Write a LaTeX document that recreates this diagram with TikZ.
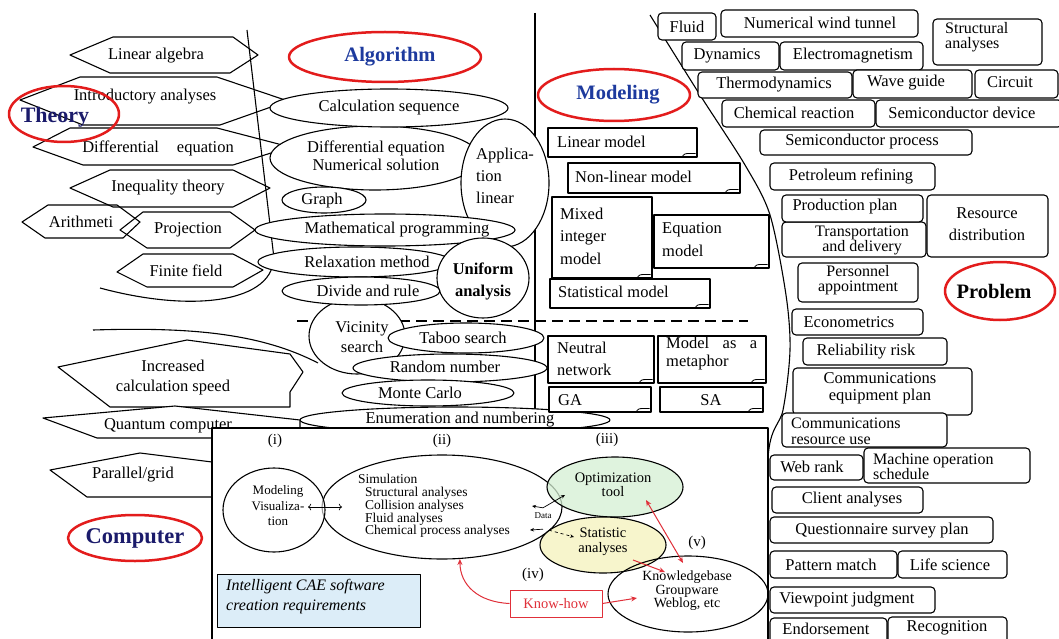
\documentclass[tikz,border=0pt]{standalone}
\usepackage{fontspec}
\setmainfont{Liberation Serif}
\usetikzlibrary{shapes.geometric,arrows.meta}
\definecolor{ovalred}{HTML}{E31C1C}
\definecolor{headblue}{HTML}{1D3A9E}
\definecolor{navy}{HTML}{1B1B6B}
\definecolor{arrowred}{HTML}{E0303A}
\definecolor{optgreen}{HTML}{D5EFD3}
\definecolor{statyellow}{HTML}{F6F4C4}
\definecolor{caeblue}{HTML}{DCEDF8}
% box from corner (x1,y1) to (x2,y2): style, name, x1, y1, x2, y2
\newcommand\bxx[6]{\node[#1, minimum width={#5-#3}, minimum height={#6-#4}] (#2) at ({(#3+#5)/2},{(#4+#6)/2}) {};}
% ellipse node: style, name, cx, cy, rx, ry
\newcommand\elx[6]{\node[#1, minimum width={2*#5}, minimum height={2*#6}] (#2) at (#3,#4) {};}
% text node: options, name, position, text
\newcommand\tlab[4][]{\node[txt,#1] (#2) at (#3) {#4};}
\begin{document}
\begin{tikzpicture}[x=1pt,y=-1pt,line join=round,
  every node/.style={font=\fontsize{16.5}{18}\selectfont},
  txt/.style={inner sep=0pt, align=center},
  bord/.style={line width=1.1pt},
  ell/.style={ellipse, draw, fill=white, bord, inner sep=0pt},
  oval/.style={ellipse, draw=ovalred, line width=2.5pt, inner sep=0pt},
  mbox/.style={rectangle, draw, fill=white, bord, inner sep=0pt},
  pbox/.style={mbox, rounded corners=4pt},
  hexa/.style={draw, bord},
  head/.style={txt, font=\fontsize{20.5}{22}\selectfont\bfseries, text=headblue},
  redarr/.style={draw=arrowred, line width=1pt, -{Stealth[length=6pt,width=5pt]}},
  darr/.style={line width=0.7pt, -{Stealth[length=4pt,width=3.5pt]}},
]
\useasboundingbox (0,0) rectangle (1059,639);
\clip (0,0) rectangle (1059,639);
\fill[white] (0,0) rectangle (1059,639);

% ---------- region boundaries ----------
\draw[bord] (247,30) -- (273,250) .. controls (282,300) and (200,315) .. (100,288);
\draw[bord] (93,330) .. controls (190,327) and (260,333) .. (318,363);
\draw[bord] (535,13) -- (535,430);
\draw[bord] plot[smooth] coordinates {(650,15) (700,95) (745,165) (770,215) (786,295) (790,350) (783,410) (768,458) (768,639)};
\draw[line width=2.2pt, dash pattern=on 11pt off 6pt] (297,321) -- (748,321);

% ---------- Theory ----------
\draw[hexa] (70,55) -- (113,37) -- (233,37) -- (258,55) -- (230,73) -- (110,73) -- cycle;
\tlab{t-lin}{156,56}{Linear algebra}
\draw[hexa] (20,100) -- (80,77) -- (217,77) -- (288,101) -- (220,125) -- (83,125) -- cycle;
\tlab{t-intro}{145,97}{Introductory analyses}
\draw[hexa] (33,147) -- (70,128) -- (217,128) -- (290,147) -- (233,165) -- (83,165) -- cycle;
\tlab{t-diff}{158,148}{Differential\hspace{18pt}equation}
\draw[hexa] (70,188) -- (110,170) -- (233,170) -- (270,188) -- (233,207) -- (113,207) -- cycle;
\tlab{t-ineq}{168,188}{Inequality theory}
\draw[hexa] (22,222) -- (48,205) -- (117,205) -- (140,222) -- (123,238) -- (45,238) -- cycle;
\tlab{t-arith}{81,222}{Arithmeti}
\draw[hexa] (120,230) -- (143,212) -- (230,212) -- (255,230) -- (230,248) -- (147,248) -- cycle;
\tlab{t-proj}{188,230}{Projection}
\draw[hexa] (117,272) -- (143,254) -- (233,254) -- (263,270) -- (233,287) -- (147,287) -- cycle;
\tlab{t-fin}{186,271}{Finite field}

% ---------- Algorithm ----------
\elx{ell}{diff}{375}{158}{105}{32}
\tlab{diff-t}{376,156}{Differential equation\\Numerical solution}
\elx{ell}{calc}{389}{108}{119}{19}
\tlab{calc-t}{389,108}{Calculation sequence}
\elx{ell}{app}{505}{183}{44}{64}
\tlab[anchor=west,align=left,font=\fontsize{16.5}{22}\selectfont]{app-t}{476,176}{Applica-\\tion\\linear}
\elx{ell}{graph}{324}{200}{42}{13}
\tlab{graph-t}{322,201}{Graph}
\elx{ell}{mathp}{385}{230}{130}{16}
\tlab{mathp-t}{397,230}{Mathematical programming}
\elx{ell}{relax}{355}{262}{97}{15}
\tlab{relax-t}{367,262}{Relaxation method}
\elx{ell}{unif}{483}{278}{46}{40}
\tlab[font=\fontsize{16.5}{22}\selectfont\bfseries]{unif-t}{483,281}{Uniform\\analysis}
\elx{ell}{vic}{357}{336}{48}{38}
\elx{ell}{divide}{361}{291}{79}{14}
\tlab{divide-t}{368,291}{Divide and rule}
\tlab[font=\fontsize{16.5}{20}\selectfont]{vic-t}{362,337}{Vicinity\\search}
\elx{ell}{taboo}{466}{338}{78}{15}
\tlab{taboo-t}{463,338}{Taboo search}
\elx{ell}{random}{450}{368}{97}{14}
\tlab{random-t}{445,367}{Random number}
\elx{ell}{monte}{428}{393}{86}{13}
\tlab{monte-t}{420,393}{Monte Carlo}
\elx{ell}{enum}{455}{420}{155}{13}
\tlab{enum-t}{460,420}{Enumeration and numbering}

% ---------- Modeling ----------
\bxx{mbox}{linm}{548}{128}{697}{157}
\tlab[anchor=west]{linm-t}{557,142}{Linear model}
\bxx{mbox}{nlm}{568}{163}{740}{193}
\tlab[anchor=west]{nlm-t}{575,177}{Non-linear model}
\bxx{mbox}{mixed}{552}{197}{652}{278}
\tlab[anchor=west,align=left,font=\fontsize{16.5}{22.5}\selectfont]{mixed-t}{560,236}{Mixed\\integer\\model}
\bxx{mbox}{eqm}{654}{215}{769}{268}
\tlab[anchor=west,align=left,font=\fontsize{16.5}{23}\selectfont]{eqm-t}{662,240}{Equation\\model}
\bxx{mbox}{statm}{550}{279}{710}{308}
\tlab[anchor=west]{statm-t}{558,292}{Statistical model}
\bxx{mbox}{nn}{548}{336}{654}{383}
\tlab[anchor=west,align=left,font=\fontsize{16.5}{22}\selectfont]{nn-t}{557,359}{Neutral\\network}
\bxx{mbox}{meta}{658}{336}{766}{383}
\tlab[anchor=west,align=left,font=\fontsize{16.5}{18}\selectfont]{meta-t}{666,354}{\makebox[91pt][s]{Model as a}\\metaphor}
\bxx{mbox}{ga}{549}{387}{651}{412}
\tlab[anchor=west]{ga-t}{558,400}{GA}
\bxx{mbox}{sa}{660}{387}{763}{412}
\tlab{sa-t}{711,400}{SA}
\foreach \n in {linm,nlm,mixed,eqm,statm,nn,meta,ga,sa}
  \draw[line width=0.8pt] ([xshift=-16pt]\n.south east) .. controls ([xshift=-13pt,yshift=4pt]\n.south east) .. ([xshift=-8pt,yshift=4pt]\n.south east) -- ([xshift=-2pt,yshift=4pt]\n.south east);

% ---------- Problem ----------
\bxx{pbox}{fluid}{658}{13}{716}{40}
\tlab{fluid-t}{687,27}{Fluid}
\bxx{pbox}{nwt}{721}{10}{918}{37}
\tlab{nwt-t}{820,23}{Numerical wind tunnel}
\bxx{pbox}{struct}{933}{19}{1042}{65}
\tlab[anchor=west,align=left,font=\fontsize{16}{15}\selectfont]{struct-t}{945,37}{Structural\\analyses}
\bxx{pbox}{dyn}{682}{42}{779}{70}
\tlab{dyn-t}{727,56}{Dynamics}
\bxx{pbox}{em}{780}{42}{923}{70}
\tlab{em-t}{853,56}{Electromagnetism}
\bxx{pbox}{thermo}{698}{72}{852}{98}
\tlab{thermo-t}{774,85}{Thermodynamics}
\bxx{pbox}{wave}{853}{70}{972}{98}
\tlab{wave-t}{906,83}{Wave guide}
\bxx{pbox}{circ}{975}{70}{1058}{98}
\tlab{circ-t}{1010,82}{Circuit}
\bxx{pbox}{chem}{722}{100}{875}{127}
\tlab{chem-t}{794,113}{Chemical reaction}
\bxx{pbox}{semdev}{876}{100}{1062}{127}
\tlab{semdev-t}{962,113}{Semiconductor device}
\bxx{pbox}{semproc}{760}{130}{972}{155}
\tlab{semproc-t}{862,142}{Semiconductor process}
\bxx{pbox}{petro}{770}{163}{935}{190}
\tlab{petro-t}{851,176}{Petroleum refining}
\bxx{pbox}{resdist}{927}{195}{1048}{257}
\tlab[font=\fontsize{16.5}{22}\selectfont]{resdist-t}{987,224}{Resource\\distribution}
\bxx{pbox}{transp}{782}{222}{926}{257}
\tlab[font=\fontsize{16}{15}\selectfont]{transp-t}{862,240}{Transportation\\and delivery}
\bxx{pbox}{prod}{782}{195}{923}{222}
\tlab{prod-t}{845,207}{Production plan}
\bxx{pbox}{pers}{798}{263}{918}{302}
\tlab[font=\fontsize{16}{14.5}\selectfont]{pers-t}{858,280}{Personnel\\appointment}
\bxx{pbox}{econ}{792}{309}{923}{335}
\tlab{econ-t}{849,322}{Econometrics}
\bxx{pbox}{rel}{803}{338}{947}{365}
\tlab{rel-t}{866,352}{Reliability risk}
\bxx{pbox}{commeq}{793}{368}{972}{415}
\tlab[font=\fontsize{16.5}{17}\selectfont]{commeq-t}{880,388}{Communications\\equipment plan}
\bxx{pbox}{commres}{782}{413}{947}{447}
\tlab[anchor=west,align=left,font=\fontsize{16}{16}\selectfont]{commres-t}{791,431}{Communications\\resource use}
\bxx{pbox}{web}{770}{455}{863}{480}
\tlab{web-t}{812,467}{Web rank}
\bxx{pbox}{mach}{864}{448}{1030}{483}
\tlab[anchor=west,align=left,font=\fontsize{16}{15}\selectfont]{mach-t}{873,467}{Machine operation\\schedule}
\bxx{pbox}{client}{772}{487}{923}{513}
\tlab{client-t}{852,500}{Client analyses}
\bxx{pbox}{quest}{770}{517}{993}{543}
\tlab{quest-t}{882,531}{Questionnaire survey plan}
\bxx{pbox}{pat}{770}{551}{897}{578}
\tlab{pat-t}{831,565}{Pattern match}
\bxx{pbox}{life}{898}{551}{1007}{578}
\tlab{life-t}{950,565}{Life science}
\bxx{pbox}{view}{770}{587}{935}{613}
\tlab{view-t}{847,600}{Viewpoint judgment}
\bxx{pbox}{endo}{770}{618}{887}{650}
\tlab{endo-t}{826,629}{Endorsement}
\bxx{pbox}{recog}{888}{617}{1007}{650}
\tlab{recog-t}{947,628}{Recognition}

% ---------- Computer ----------
\draw[hexa, fill=white] (58,367) -- (187,340) -- (290,354) -- (303,372) -- (290,392) -- (290,407) -- (110,407) -- cycle;
\tlab[font=\fontsize{16.5}{20}\selectfont]{incr-t}{173,378}{Increased\\calculation speed}
\draw[hexa, fill=white] (43,418) -- (175,406) -- (300,420) -- (300,438) -- (97,438) -- cycle;
\tlab{quant-t}{168,426}{Quantum computer}
\draw[hexa, fill=white] (50,470) -- (140,453) -- (212,462) -- (212,497) -- (87,497) -- cycle;
\tlab{par-t}{133,475}{Parallel/grid}

% ---------- CAE frame ----------
\draw[bord, fill=white] (212,428) rectangle (768,660);
\tlab[font=\fontsize{15}{16}\selectfont]{lab1}{275,441}{(i)}
\tlab[font=\fontsize{15}{16}\selectfont]{lab2}{442,441}{(ii)}
\tlab[font=\fontsize{15}{16}\selectfont]{lab3}{607,440}{(iii)}
\tlab[font=\fontsize{15}{16}\selectfont]{lab4}{533,575}{(iv)}
\tlab[font=\fontsize{15}{16}\selectfont]{lab5}{697,543}{(v)}

\elx{draw,ellipse,bord,inner sep=0pt}{sim}{442}{507}{120}{52}
\elx{draw,ellipse,bord,inner sep=0pt,fill=white,fill opacity=0.6}{mv}{274}{510}{51}{42}
\tlab[font=\fontsize{13}{15.5}\selectfont]{mv-t}{278,506}{Modeling\\Visualiza-\\tion}
\tlab[anchor=west,align=left,font=\fontsize{13.5}{12.8}\selectfont]{sim-t}{358,506}{Simulation\\\hspace*{7pt}Structural analyses\\\hspace*{7pt}Collision analyses\\\hspace*{7pt}Fluid analyses\\\hspace*{7pt}Chemical process analyses}
\draw[darr, <->] ([shift={(34,-3)}]mv.center) -- ([shift={(-100,0)}]sim.center);

\elx{draw,ellipse,bord,inner sep=0pt,fill=optgreen,fill opacity=0.75}{opt}{615}{487}{68}{30}
\tlab[font=\fontsize{14.5}{14.5}\selectfont]{opt-t}{613,485}{Optimization\\tool}
\elx{draw,ellipse,bord,inner sep=0pt,fill=statyellow,fill opacity=0.85}{stat}{603}{545}{63}{28}
\tlab[font=\fontsize{14.5}{15}\selectfont]{stat-t}{603,542}{Statistic\\analyses}
\elx{draw,ellipse,bord,inner sep=0pt}{know}{688}{594}{80}{38}
\tlab[font=\fontsize{14}{13.5}\selectfont]{know-t}{687,591}{Knowledgebase\\Groupware\\Weblog, etc}

\tlab[font=\fontsize{9}{10}\selectfont]{data}{543,516}{Data}
\draw[darr] ([yshift=5pt]data.north) -- ([shift={(-50,8)}]opt.center);
\draw[darr] ([yshift=5pt]data.north) -- ([shift={(90,-1)}]sim.center);
\draw[darr] ([yshift=-10pt]data.south) -- ([shift={(88,23)}]sim.center);
\draw[darr, dashed] ([shift={(6pt,-11pt)}]data.south) -- ([shift={(-29,-8)}]stat.center);

\node[draw=arrowred, line width=1pt, text=arrowred, minimum width=92pt, minimum height=27pt, inner sep=0pt, font=\fontsize{14.5}{16}\selectfont] (kh) at (556,603.5) {Know-how};
\draw[redarr] (kh.east) -- ([shift={(-51,4)}]know.center);
\draw[redarr] (kh.west) .. controls (478,602) and (460,585) .. (sim.-71);
\draw[redarr] ([shift={(30,15)}]stat.center) -- ([shift={(-23,-22)}]know.center);
\draw[redarr, {Stealth[length=6pt,width=5pt]}-{Stealth[length=6pt,width=5pt]}] ([shift={(31,13)}]opt.center) -- ([shift={(-5,-31)}]know.center);

\node[draw, line width=1pt, fill=caeblue, minimum width=203pt, minimum height=53pt, inner sep=0pt] (cae) at (318.5,600.5) {};
\tlab[anchor=west,align=left,font=\fontsize{16}{20}\selectfont\itshape]{cae-t}{226,597}{Intelligent CAE software\\creation requirements}

% ---------- headings ----------
\elx{oval}{theory}{64}{114}{55}{28}
\tlab[font=\fontsize{22}{24}\selectfont\bfseries, text=navy]{theory-t}{55,117}{Theory}
\elx{oval}{algo}{385}{57}{96}{25}
\tlab[head]{algo-t}{390,57}{Algorithm}
\elx{oval}{model}{614}{95}{76}{26}
\tlab[head]{model-t}{618,95}{Modeling}
\elx{oval}{prob}{1000}{291}{55}{29}
\tlab[head, text=black]{prob-t}{994,291}{Problem}
\elx{oval}{comp}{135}{538}{67}{23}
\tlab[font=\fontsize{22.5}{24}\selectfont\bfseries, text=navy]{comp-t}{135,538}{Computer}
\end{tikzpicture}
\end{document}
